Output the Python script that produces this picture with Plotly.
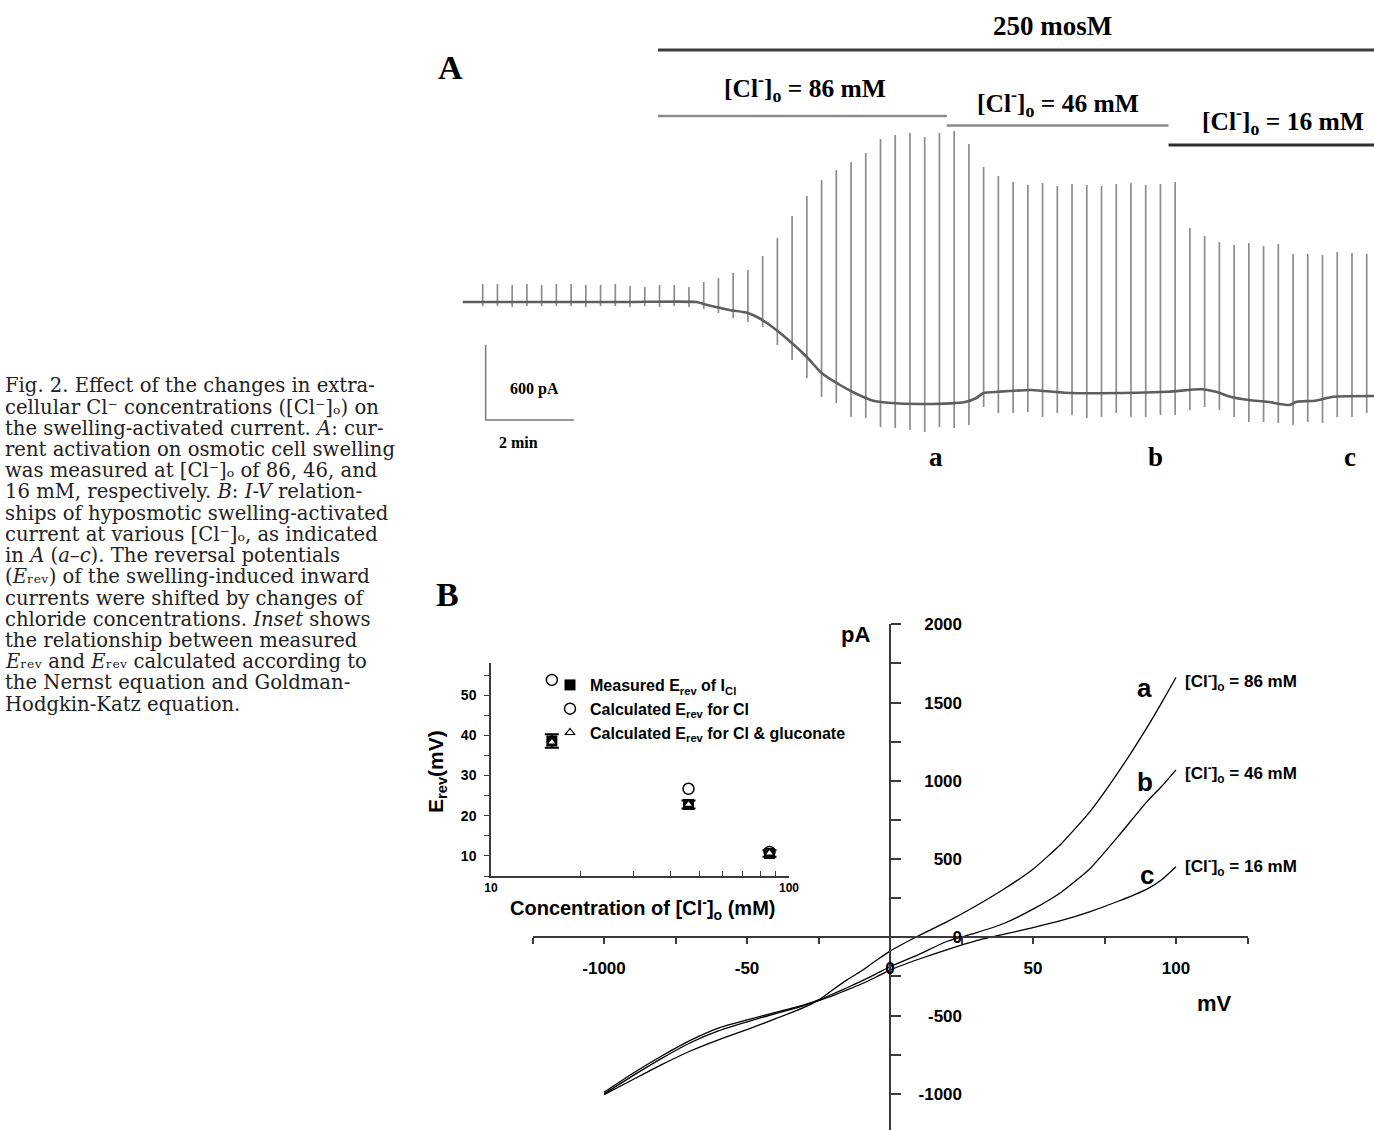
import plotly.graph_objects as go

W, H = 1374, 1130
def px(x): return x / W
def py(y): return 1 - y / H

# ---------------- Panel A data (holding current trace with voltage-ramp spikes) ----------------
spike_time_s = [0, 20, 40, 60, 80, 100, 120, 140, 160, 180, 200, 220, 240, 260, 280, 300, 320, 340, 360, 380,
                400, 420, 440, 460, 480, 500, 520, 540, 560, 580, 600, 620, 640, 660, 680, 700, 720, 740, 760, 780,
                800, 820, 840, 860, 880, 900, 920, 940, 960, 980, 1000, 1020, 1040, 1060, 1080, 1100, 1120, 1140,
                1160, 1180, 1200]
spike_top_pA = [144, 144, 136, 144, 136, 144, 144, 136, 136, 144, 128, 120, 136, 136,
                120, 160, 192, 232, 256, 368, 512, 688, 848, 976, 1056, 1120, 1192, 1304, 1336, 1352, 1320, 1352,
                1368, 1264, 1080,
                1008, 960, 936, 952, 928, 944, 936, 928, 944, 952, 936, 944, 960,
                592, 528, 480, 456, 472, 448, 464, 384, 384, 376, 400, 392, 384]
spike_bottom_pA = [-32, -32, -40, -32, -32, -32, -32, -40, -32, -32, -40, -32, -40, -32,
                   -40, -56, -88, -128, -160, -200, -344, -464, -608, -760, -808, -920, -928, -1000, -1008, -1024,
                   -1040, -1000, -1008, -984, -840,
                   -888, -888, -880, -920, -888, -904, -928, -920, -888, -920, -920, -904, -904,
                   -864, -840, -864, -920, -960, -960, -968, -984, -960, -968, -920, -920, -888]
holding_time_s = [-27, 0, 100, 200, 290, 305, 335, 360, 375, 395, 415, 440, 460, 485, 505, 530, 550, 600,
                  655, 670, 680, 700, 745, 790, 840, 930, 975, 995, 1015, 1040, 1065, 1095, 1105, 1130, 1155, 1210]
holding_pA = [0, 0, 0, 0, 0, -24, -64, -88, -128, -208, -304, -440, -568, -664, -728, -790, -806, -816,
              -800, -768, -728, -718, -704, -726, -730, -718, -698, -718, -758, -784, -798, -824, -798, -790,
              -758, -752]

# solution-change times (s) for the bars above the trace
t_86_start, t_46_start, t_16_start, t_end = 238, 630, 931, 1210

# ---------------- Panel B data (I-V relationships) ----------------
iv_mV = [-100, -90, -80, -70, -60, -50, -40, -30, -25, -20, -15, -10, -5, 0, 10, 20, 30, 40, 50, 60, 70, 80, 90,
         95, 100]
iv_a_pA = [-990, -870, -760, -660, -580, -528, -480, -432, -400, -335, -272, -215, -150, -88, 10, 100, 200, 310,
           435, 600, 805, 1060, 1345, 1500, 1660]
iv_b_pA = [-1000, -885, -775, -675, -598, -540, -488, -437, -402, -362, -322, -280, -235, -188, -110, -25, 28, 90,
           180, 290, 440, 650, 870, 965, 1070]
iv_c_pA = [-1005, -910, -815, -728, -655, -590, -520, -448, -405, -372, -336, -298, -255, -209, -140, -78, -22, 20,
           62, 108, 165, 232, 310, 368, 451]

# inset
conc_mM = [16, 46, 86]
erev_measured = [38.6, 22.8, 10.6]
erev_measured_sem = [1.7, 1.0, 0.8]
erev_calc_cl = [53.8, 26.7, 11.0]
erev_calc_cl_glu = [38.3, 22.8, 10.7]

x_tickvals = [-125, -100, -75, -50, -25, 0, 25, 50, 75, 100, 125]
x_ticktext = ['', '-1000', '', '-50', '', '0', '', '50', '', '100', '']
y_tickvals = [-1000, -750, -500, -250, 0, 250, 500, 750, 1000, 1250, 1500, 1750, 2000]
y_labelvals = [-1000, -500, 0, 500, 1000, 1500, 2000]
y_labeltext = ['-1000', '-500', '0', '500', '1000', '1500', '2000']

SERIF = "Liberation Serif"
SANS = "Liberation Sans"
CAP = "DejaVu Serif"

fig = go.Figure()

# ---- Panel A traces
sx, sy = [], []
for t, lo, hi in zip(spike_time_s, spike_bottom_pA, spike_top_pA):
    sx += [t, t, None]
    sy += [lo, hi, None]
fig.add_trace(go.Scatter(x=sx, y=sy, mode='lines', line=dict(color='#8c8c8c', width=1.7),
                         xaxis='x', yaxis='y', showlegend=False, hoverinfo='skip'))
fig.add_trace(go.Scatter(x=holding_time_s, y=holding_pA, mode='lines',
                         line=dict(color='#5e5e5e', width=2.6, shape='spline', smoothing=0.6),
                         xaxis='x', yaxis='y', showlegend=False, hoverinfo='skip'))
# scale bars (600 pA, 2 min)
fig.add_trace(go.Scatter(x=[4, 4, 124], y=[-344, -944, -944], mode='lines',
                         line=dict(color='#7a7a7a', width=1.5), xaxis='x', yaxis='y',
                         showlegend=False, hoverinfo='skip'))

# ---- Panel B I-V curves
for yv in (iv_a_pA, iv_b_pA, iv_c_pA):
    fig.add_trace(go.Scatter(x=iv_mV, y=yv, mode='lines',
                             line=dict(color='black', width=1.3, shape='spline', smoothing=0.5),
                             xaxis='x2', yaxis='y2', showlegend=False, hoverinfo='skip'))
fig.add_trace(go.Scatter(x=[None], y=[None], xaxis='x2', yaxis='y3', showlegend=False, hoverinfo='skip'))

# ---- Inset
fig.add_trace(go.Scatter(x=conc_mM, y=erev_measured, mode='markers', name='Measured E<sub>rev</sub> of I<sub>Cl</sub>',
                         marker=dict(symbol='square', size=11, color='black'),
                         error_y=dict(type='data', array=erev_measured_sem, color='black', thickness=2, width=7),
                         xaxis='x3', yaxis='y4', legendrank=1))
fig.add_trace(go.Scatter(x=conc_mM, y=erev_calc_cl_glu, mode='markers',
                         name='Calculated E<sub>rev</sub> for Cl & gluconate',
                         marker=dict(symbol='triangle-up', size=8, color='white', line=dict(color='black', width=1.2)),
                         xaxis='x3', yaxis='y4', legendrank=3))
fig.add_trace(go.Scatter(x=conc_mM, y=erev_calc_cl, mode='markers', name='Calculated E<sub>rev</sub> for Cl',
                         marker=dict(symbol='circle-open', size=11, color='black', line=dict(width=1.5)),
                         xaxis='x3', yaxis='y4', legendrank=2))

axcol = '#3a3a3a'
sansb = dict(family=SANS, color='black', weight='bold')

fig.update_layout(
    width=W, height=H,
    margin=dict(l=0, r=0, t=0, b=0, pad=0, autoexpand=False),
    paper_bgcolor='white', plot_bgcolor='rgba(0,0,0,0)',
    xaxis=dict(domain=[px(450), 1], range=[-44.4, 1209.9], visible=False, anchor='y'),
    yaxis=dict(domain=[py(470), py(120)], range=[-1344, 1456], visible=False, anchor='x'),
    xaxis2=dict(domain=[px(532.5), px(1247.5)], range=[-125, 125], anchor='free', position=py(937.3),
                showline=True, linecolor=axcol, linewidth=1.5, ticks='outside', ticklen=6, tickwidth=1.5,
                tickcolor=axcol, tickvals=x_tickvals, ticktext=x_ticktext, showgrid=False, zeroline=False,
                tickfont=dict(size=17, **sansb), ticklabelstandoff=10),
    yaxis2=dict(domain=[0, py(624.3)], range=[-1231, 2000], anchor='free', position=px(890), side='right',
                showline=True, linecolor=axcol, linewidth=1.5, ticks='outside', ticklen=10, tickwidth=1.5,
                tickcolor=axcol, tickvals=y_tickvals, showticklabels=False, showgrid=False, zeroline=False),
    yaxis3=dict(overlaying='y2', range=[-1231, 2000], anchor='free', position=px(962), side='left',
                showline=False, ticks='', tickvals=y_labelvals, ticktext=y_labeltext, showgrid=False,
                zeroline=False, tickfont=dict(size=17, **sansb)),
    xaxis3=dict(domain=[px(491), px(789)], type='log', range=[1, 2], anchor='y4', showline=True,
                linecolor=axcol, linewidth=1.5, ticks='inside', ticklen=5, tickwidth=1.2, tickcolor=axcol,
                tickvals=[10, 20, 30, 40, 50, 60, 70, 80, 90, 100],
                ticktext=['10', '', '', '', '', '', '', '', '', '100'], showgrid=False, zeroline=False,
                tickfont=dict(size=12, **sansb)),
    yaxis4=dict(domain=[py(876), py(663)], range=[5, 58], anchor='x3', showline=True, linecolor=axcol,
                linewidth=1.5, ticks='outside', ticklen=5, tickwidth=1.2, tickcolor=axcol,
                tickvals=[5, 10, 15, 20, 25, 30, 35, 40, 45, 50, 55],
                ticktext=['', '10', '', '20', '', '30', '', '40', '', '50', ''], showgrid=False, zeroline=False,
                tickfont=dict(size=14, **sansb), ticklabelstandoff=5),
    legend=dict(x=px(550), y=py(668), xanchor='left', yanchor='top', bgcolor='rgba(0,0,0,0)',
                font=dict(size=16, **sansb), tracegroupgap=0, itemwidth=30),
    showlegend=True,
)

# bars over panel A
bars = [(t_86_start, t_end, 50, '#3c3c3c', 3), (t_86_start, t_46_start, 116, '#8a8a8a', 2.5),
        (t_46_start, t_16_start, 125.5, '#8a8a8a', 2.5), (t_16_start, t_end, 145, '#2e2e2e', 3)]
for x0, x1, yy, col, lw in bars:
    fig.add_shape(type='line', xref='x', yref='paper', x0=x0, x1=x1, y0=py(yy), y1=py(yy),
                  line=dict(color=col, width=lw))

ann = []
def A(text, x, y, size, family, xanchor='center', bold=True, xref='paper', yref='paper',
      angle=0, color='black'):
    ann.append(dict(text=text, x=x, y=y, xref=xref, yref=yref, xanchor=xanchor, yanchor='middle',
                    showarrow=False, textangle=angle,
                    font=dict(size=size, family=family, color=color, weight='bold' if bold else 'normal')))

# Panel A text
A('A', px(450), py(67), 34, SERIF)
A('250 mosM', px(1052), py(26), 27, SERIF)
A('[Cl<sup>-</sup>]<sub>o</sub> = 86 mM', px(805), py(88), 25.5, SERIF)
A('[Cl<sup>-</sup>]<sub>o</sub> = 46 mM', px(1058), py(103), 25.5, SERIF)
A('[Cl<sup>-</sup>]<sub>o</sub> = 16 mM', px(1283), py(121), 25.5, SERIF)
A('600 pA', px(534), py(389), 16, SERIF)
A('2 min', px(518), py(442), 16, SERIF)
A('a', px(936), py(457), 27, SERIF)
A('b', px(1155), py(457), 27, SERIF)
A('c', px(1350), py(457), 27, SERIF)

# Panel B text
A('B', px(447), py(594), 34, SERIF)
A('pA', -11.9, 1938, 22, SANS, xref='x2', yref='y2')
A('mV', 113.6, -420, 22, SANS, xref='x2', yref='y2')
A('a', 89, 1591, 26, SANS, xref='x2', yref='y2')
A('b', 89, 994, 26, SANS, xref='x2', yref='y2')
A('c', 90, 398, 26, SANS, xref='x2', yref='y2')
A('[Cl<sup>-</sup>]<sub>o</sub> = 86 mM', 102.5, 1634, 17, SANS, xanchor='left', xref='x2', yref='y2')
A('[Cl<sup>-</sup>]<sub>o</sub> = 46 mM', 102.5, 1048, 17, SANS, xanchor='left', xref='x2', yref='y2')
A('[Cl<sup>-</sup>]<sub>o</sub> = 16 mM', 102.5, 451, 17, SANS, xanchor='left', xref='x2', yref='y2')
A('E<sub>rev</sub>(mV)', px(437), py(772), 21, SANS, angle=-90)
A('Concentration of [Cl<sup>-</sup>]<sub>o</sub> (mM)', px(642), py(908), 20, SANS)

# Caption
caption_lines = [
    "Fig. 2. Effect of the changes in extra-",
    "cellular Cl⁻ concentrations ([Cl⁻]ₒ) on",
    "the swelling-activated current. <i>A</i>: cur-",
    "rent activation on osmotic cell swelling",
    "was measured at [Cl⁻]ₒ of 86, 46, and",
    "16 mM, respectively. <i>B</i>: <i>I-V</i> relation-",
    "ships of hyposmotic swelling-activated",
    "current at various [Cl⁻]ₒ, as indicated",
    "in <i>A</i> (<i>a–c</i>). The reversal potentials",
    "(<i>E</i>ᵣₑᵥ) of the swelling-induced inward",
    "currents were shifted by changes of",
    "chloride concentrations. <i>Inset</i> shows",
    "the relationship between measured",
    "<i>E</i>ᵣₑᵥ and <i>E</i>ᵣₑᵥ calculated according to",
    "the Nernst equation and Goldman-",
    "Hodgkin-Katz equation.",
]
for k, line in enumerate(caption_lines):
    A(line, px(3), py(386 + 21.2 * k), 19.6, CAP, xanchor='left', bold=False, color='#222')

fig.update_layout(annotations=ann)
fig.write_html("out.html", config={'displayModeBar': False},
               post_script="document.body.style.margin='0';")
